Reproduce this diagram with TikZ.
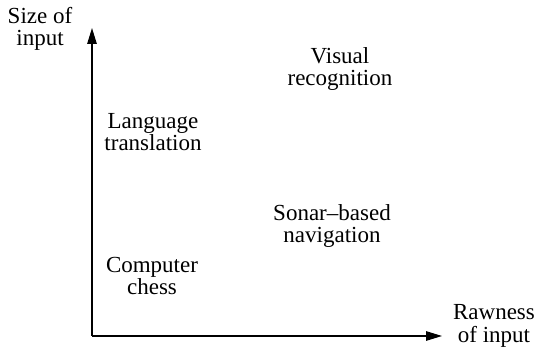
\documentclass[tikz,border=0pt]{standalone}
\usepackage{fontspec}
\setmainfont{Liberation Serif}
\usetikzlibrary{arrows.meta}
\begin{document}
\begin{tikzpicture}[x=1pt,y=-1pt,
  lbl/.style={align=center,font=\fontsize{23}{22.5}\selectfont,inner sep=0pt},
  axis/.style={line width=1.3pt,-{Triangle[length=16pt,width=9.5pt]}}]
\useasboundingbox (0,0) rectangle (542,347);
\coordinate (o) at (92,336);
\coordinate (ytip) at (92,28);
\coordinate (xtip) at (442,336);
\draw[axis] (o) -- (ytip);
\draw[axis] (o) -- (xtip);
\node[lbl] (yl) at (40,29) {Size of\\input};
\node[lbl] (xl) at (494,326) {Rawness\\of input};
\node[lbl] (vis) at (340,69) {Visual\\recognition};
\node[lbl] (lang) at (153,132) {Language\\translation};
\node[lbl] (sonar) at (332,226) {Sonar--based\\navigation};
\node[lbl] (chess) at (152,276) {Computer\\chess};
\end{tikzpicture}
\end{document}
